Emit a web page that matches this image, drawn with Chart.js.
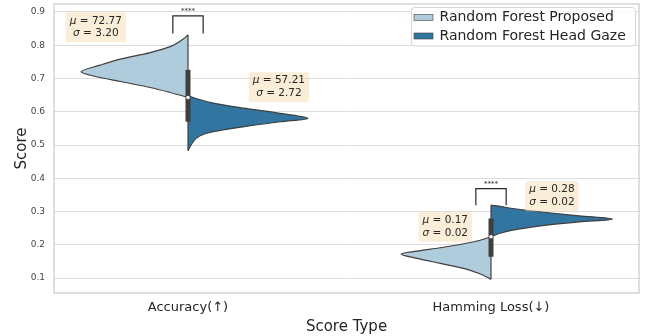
<!DOCTYPE html>
<html>
<head>
<meta charset="utf-8">
<script src="https://cdn.jsdelivr.net/npm/chart.js@4.4.1/dist/chart.umd.min.js"></script>
<style>
  html, body { margin: 0; padding: 0; background: #fff; }
  #wrap { width: 650px; height: 336px; }
</style>
</head>
<body>
<div id="wrap"><canvas id="chart"></canvas></div>
<script>
const categories = ['Accuracy(↑)', 'Hamming Loss(↓)'];
const seriesNames = ['Random Forest Proposed', 'Random Forest Head Gaze'];

// half-violin outlines: score values and half widths (in category units)
const accProposedY = [0.643, 0.658, 0.673, 0.691, 0.703, 0.720, 0.740, 0.758, 0.778, 0.796, 0.818, 0.831];
const accProposedW = [0, 0.059, 0.125, 0.224, 0.290, 0.353, 0.290, 0.224, 0.125, 0.059, 0.017, 0];
const accHeadY = [0.483, 0.503, 0.528, 0.540, 0.556, 0.570, 0.580, 0.595, 0.610, 0.626, 0.643, 0.648];
const accHeadW = [0, 0.012, 0.040, 0.083, 0.191, 0.304, 0.396, 0.304, 0.191, 0.083, 0.017, 0];
const hamProposedY = [0.096, 0.112, 0.129, 0.144, 0.159, 0.172, 0.181, 0.191, 0.209, 0.224];
const hamProposedW = [0, 0.035, 0.090, 0.167, 0.244, 0.297, 0.244, 0.167, 0.057, 0];
const hamHeadY = [0.224, 0.234, 0.244, 0.259, 0.269, 0.277, 0.287, 0.297, 0.309, 0.318, 0.319];
const hamHeadW = [0, 0.027, 0.071, 0.182, 0.291, 0.401, 0.291, 0.182, 0.071, 0.013, 0];

// inner box per category
const boxMin = [0.483, 0.096];
const boxQ1 = [0.570, 0.164];
const boxMedian = [0.643, 0.224];
const boxQ3 = [0.726, 0.279];
const boxMax = [0.831, 0.319];

// significance brackets
const bracketTop = [0.888, 0.369];
const bracketBottom = [0.835, 0.319];
const bracketText = ['****', '****'];

// stats per category: [proposed, head gaze]
const means = [['72.77', '57.21'], ['0.17', '0.28']];
const stds = [['3.20', '2.72'], ['0.02', '0.02']];
const annoX = [[-0.304, 0.300], [-0.151, 0.201]];
const annoY = [[0.854, 0.674], [0.254, 0.346]];

const yTicks = [0.1, 0.2, 0.3, 0.4, 0.5, 0.6, 0.7, 0.8, 0.9];

const lightC = '#aeccdb';
const darkC = '#3275a1';
const edgeC = '#3f3f3f';
const textC = '#262626';
const FONT = "'DejaVu Sans', sans-serif";

function half(ys, ws, c, side) {
  return ys.map((v, i) => ({ x: c + side * ws[i], y: v }));
}

function violin(ys, ws, c, side, color) {
  return {
    data: half(ys, ws, c, side),
    fill: { value: c },
    backgroundColor: color,
    borderColor: edgeC,
    borderWidth: 1.2,
    pointRadius: 0,
    cubicInterpolationMode: 'monotone',
    order: 5
  };
}

function straight(points, color, width, order) {
  return {
    data: points,
    borderColor: color,
    borderWidth: width,
    pointRadius: 0,
    tension: 0.000001,
    fill: false,
    order: order
  };
}

const datasets = [
  violin(accProposedY, accProposedW, 0, -1, lightC),
  violin(accHeadY, accHeadW, 0, 1, darkC),
  violin(hamProposedY, hamProposedW, 1, -1, lightC),
  violin(hamHeadY, hamHeadW, 1, 1, darkC)
];
categories.forEach((cat, i) => {
  datasets.push(straight([{ x: i, y: boxMin[i] }, { x: i, y: boxMax[i] }], edgeC, 1.2, 3));
  datasets.push(straight([{ x: i, y: boxQ1[i] }, { x: i, y: boxQ3[i] }], edgeC, 5, 2));
  datasets.push({
    data: [{ x: i, y: boxMedian[i] }],
    showLine: false,
    pointRadius: 1.8,
    pointBackgroundColor: '#ffffff',
    pointBorderWidth: 0,
    order: 1
  });
  datasets.push(straight([
    { x: i - 0.05, y: bracketBottom[i] },
    { x: i - 0.05, y: bracketTop[i] },
    { x: i + 0.05, y: bracketTop[i] },
    { x: i + 0.05, y: bracketBottom[i] }
  ], textC, 1.2, 1));
});

const decorations = {
  id: 'decorations',
  beforeDatasetsDraw(chart) {
    const { ctx, chartArea: a } = chart;
    ctx.save();
    ctx.strokeStyle = '#cccccc';
    ctx.lineWidth = 1.25;
    ctx.strokeRect(a.left, a.top, a.right - a.left, a.bottom - a.top);
    ctx.restore();
  },
  afterDatasetsDraw(chart) {
    const { ctx, scales: { x, y } } = chart;
    ctx.save();
    // significance stars
    ctx.fillStyle = textC;
    ctx.font = '7px ' + FONT;
    ctx.textAlign = 'center';
    ctx.textBaseline = 'bottom';
    bracketText.forEach((t, i) => {
      ctx.fillText(t, x.getPixelForValue(i), y.getPixelForValue(bracketTop[i]) - 1);
    });
    // mean / std boxes
    const fs = 10.5;
    means.forEach((row, i) => {
      row.forEach((m, j) => {
        const cx = x.getPixelForValue(i + annoX[i][j]);
        const cy = y.getPixelForValue(annoY[i][j]);
        const lines = [['μ', m], ['σ', stds[i][j]]];
        const widths = lines.map(([s, v]) => {
          ctx.font = 'italic ' + fs + 'px ' + FONT;
          const w1 = ctx.measureText(s).width;
          ctx.font = fs + 'px ' + FONT;
          const w2 = ctx.measureText(' = ' + v).width;
          return [w1, w2];
        });
        const bw = Math.max(...widths.map(w => w[0] + w[1])) + 8;
        const bh = 30;
        ctx.fillStyle = 'rgba(245,222,179,0.5)';
        ctx.beginPath();
        ctx.roundRect(cx - bw / 2, cy - bh / 2, bw, bh, 2);
        ctx.fill();
        ctx.fillStyle = textC;
        ctx.textAlign = 'left';
        ctx.textBaseline = 'middle';
        lines.forEach(([s, v], k) => {
          const [w1, w2] = widths[k];
          const sx = cx - (w1 + w2) / 2;
          const ly = cy - 6.5 + k * 12.5;
          ctx.font = 'italic ' + fs + 'px ' + FONT;
          ctx.fillText(s, sx, ly);
          ctx.font = fs + 'px ' + FONT;
          ctx.fillText(' = ' + v, sx + w1, ly);
        });
      });
    });
    ctx.restore();
  },
  afterDraw(chart) {
    const { ctx, chartArea: a } = chart;
    ctx.save();
    const lx = 411, ly = 7, lw = a.right - 4 - lx, lh = 38.5;
    ctx.fillStyle = 'rgba(255,255,255,0.8)';
    ctx.strokeStyle = '#d6d6d6';
    ctx.lineWidth = 1;
    ctx.beginPath();
    ctx.roundRect(lx + 0.5, ly + 0.5, lw, lh, 3);
    ctx.fill();
    ctx.stroke();
    ctx.font = '14px ' + FONT;
    ctx.textBaseline = 'middle';
    ctx.textAlign = 'left';
    [lightC, darkC].forEach((c, i) => {
      const ry = 17.5 + i * 18.5;
      ctx.fillStyle = c;
      ctx.fillRect(414, ry - 3, 19, 6);
      ctx.strokeStyle = edgeC;
      ctx.lineWidth = 0.6;
      ctx.strokeRect(414, ry - 3, 19, 6);
      ctx.fillStyle = textC;
      ctx.fillText(seriesNames[i], 439.5, ry);
    });
    ctx.restore();
  }
};

new Chart(document.getElementById('chart'), {
  type: 'line',
  data: { datasets },
  options: {
    responsive: true,
    maintainAspectRatio: false,
    animation: false,
    indexAxis: 'y',
    layout: { padding: { top: 3, right: 11, left: 0, bottom: 0 } },
    plugins: { legend: { display: false }, tooltip: { enabled: false } },
    scales: {
      x: {
        type: 'linear',
        min: -0.4422,
        max: 1.4884,
        grid: { display: false, drawTicks: false },
        border: { display: false },
        afterBuildTicks: s => { s.ticks = categories.map((c, i) => ({ value: i })); },
        afterFit: s => { s.height = 43; s.paddingLeft = 0; s.paddingRight = 0; },
        ticks: {
          callback: (v, i) => categories[i],
          color: textC,
          font: { family: FONT, size: 13 },
          padding: 7,
          maxRotation: 0
        },
        title: {
          display: true,
          text: 'Score Type',
          color: textC,
          font: { family: FONT, size: 15 },
          padding: { top: 0, bottom: 0 }
        }
      },
      y: {
        type: 'linear',
        min: 0.055,
        max: 0.924,
        grid: { color: '#dddddd', lineWidth: 1, drawTicks: false },
        border: { display: false },
        afterBuildTicks: s => { s.ticks = yTicks.map(v => ({ value: v })); },
        afterFit: s => { s.width = 54; s.paddingTop = 0; s.paddingBottom = 0; },
        ticks: {
          callback: v => v.toFixed(1),
          color: '#444444',
          font: { family: FONT, size: 9 },
          padding: 9
        },
        title: {
          display: true,
          text: 'Score',
          color: textC,
          font: { family: FONT, size: 15 },
          padding: { top: 13, bottom: 0 }
        }
      }
    }
  },
  plugins: [decorations]
});
</script>
</body>
</html>
